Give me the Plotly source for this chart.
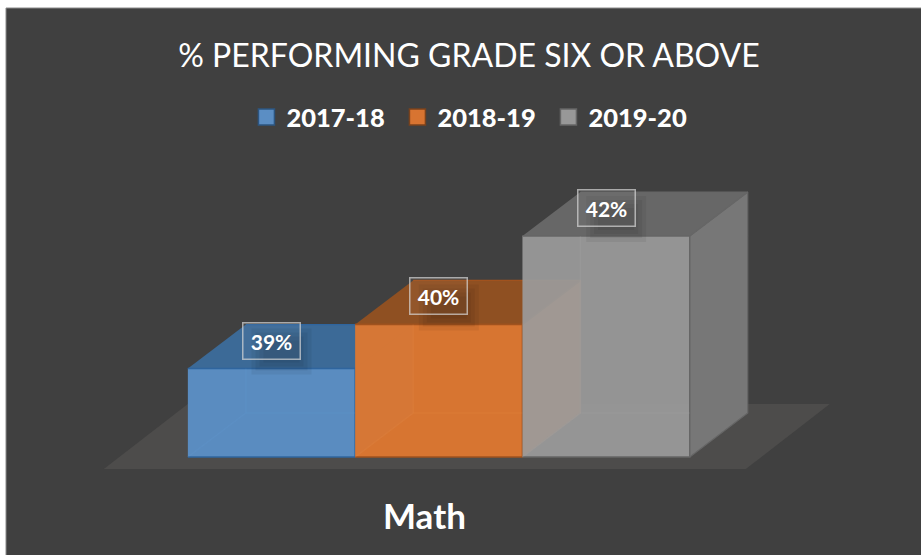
import plotly.graph_objects as go

SERIES = ["2017-18", "2018-19", "2019-20"]
VALUES = [39, 40, 42]
CATEGORY = "Math"
TITLE = "% PERFORMING GRADE SIX OR ABOVE"

FRONT = ["rgba(91,142,196,0.97)", "rgba(224,120,48,0.94)", "rgba(155,155,155,0.93)"]
TOPF = ["#3c6a97", "#8f5022", "#676767"]
SIDE = ["#3f6f9f", "#d87431", "#777777"]
EDGE = ["#2f659e", "#a0521e", "#666666"]
INNER = ["rgba(110,165,225,0.12)", "rgba(235,140,70,0.16)", "rgba(175,175,175,0.14)"]
SWATCH = ["#5b8ec4", "#d87431", "#989898"]
SWATCH_EDGE = ["#2c5580", "#7a421c", "#666666"]

BASE = 37
BAR_PX, UNIT_PX = 167.3, 44.2
PX0, PY_BASE = 271.5, 457
DX, DY = 58 / BAR_PX, 44 / UNIT_PX
W, H = 921, 555
L, T = 6, 8

fig = go.Figure()


def poly(xs, ys, fill, line=None, lw=1.2):
    fig.add_trace(go.Scatter(
        x=xs, y=ys, fill="toself", fillcolor=fill, mode="lines",
        line=dict(color=line or "rgba(0,0,0,0)", width=lw),
        hoverinfo="skip", showlegend=False))


# floor, expressed in bar / value units around the bars
fx0, fx1 = -0.5 - 84 / BAR_PX, 2.5 + 56 / BAR_PX
fy0 = BASE - 12 / UNIT_PX
fdy = 65 / UNIT_PX
fdx = 84 / BAR_PX
poly([fx0, fx1, fx1 + fdx, fx0 + fdx], [fy0, fy0, fy0 + fdy, fy0 + fdy], "#4d4c4b")

for i, v in enumerate(VALUES):
    a, b = i - 0.5, i + 0.5
    poly([b, b + DX, b + DX, b], [BASE, BASE + DY, v + DY, v], SIDE[i], EDGE[i])
    poly([a, b, b + DX, a + DX], [v, v, v + DY, v + DY], TOPF[i], EDGE[i])
    poly([a, b, b, a], [BASE, BASE, v, v], FRONT[i], EDGE[i], 1.5)
    # faint inner edges
    fig.add_trace(go.Scatter(
        x=[a, a + DX, a + DX, None, a + DX, b],
        y=[BASE, BASE + DY, v, None, BASE + DY, BASE + DY],
        mode="lines", line=dict(color=INNER[i], width=1.5),
        hoverinfo="skip", showlegend=False))

# soft shadow beneath each value label
for i, v in enumerate(VALUES):
    for inset in (0, 4, 8, 12):
        sx0, sx1 = i + (-20 + inset) / BAR_PX, i + (40 - inset) / BAR_PX
        sy0, sy1 = v - (6 - inset) / UNIT_PX, v + (40 - inset) / UNIT_PX
        poly([sx0, sx1, sx1, sx0], [sy0, sy0, sy1, sy1], "rgba(0,0,0,0.055)")

for i, s in enumerate(SERIES):
    fig.add_trace(go.Scatter(
        x=[None], y=[None], mode="markers", name=s,
        marker=dict(symbol="square", size=18, color=SWATCH[i],
                    line=dict(color=SWATCH_EDGE[i], width=1.5))))

for i, v in enumerate(VALUES):
    fig.add_annotation(
        x=i, y=v + 28 / UNIT_PX, xref="x", yref="y", text=f"<b>{v}%</b>",
        showarrow=False, width=56, height=35, valign="middle", align="center",
        font=dict(family="Lato", size=21, color="white"),
        bgcolor="rgba(255,255,255,0.04)", bordercolor="rgba(215,215,215,0.7)",
        borderwidth=1.5, borderpad=0)

fig.add_annotation(
    x=(424 - L) / (W - L), y=(H - 515) / (H - T), xref="paper", yref="paper",
    xanchor="center", yanchor="middle", text=f"<b>{CATEGORY}</b>",
    showarrow=False, font=dict(family="Lato", size=35, color="white"))

# thin panel border, left and top only
fig.add_shape(type="path", xref="paper", yref="paper", path="M 0 0 L 0 1 L 1 1",
              line=dict(color="#8a8a8a", width=1), layer="above")

fig.update_layout(
    width=W, height=H, autosize=False,
    margin=dict(l=L, r=0, t=T, b=0, pad=0),
    paper_bgcolor="white", plot_bgcolor="#404040",
    title=dict(text=TITLE, x=469 / W, xanchor="center", y=1 - 56 / H, yanchor="middle",
               font=dict(family="Lato", size=32, color="white")),
    xaxis=dict(visible=False, range=[(L - PX0) / BAR_PX, (W - PX0) / BAR_PX], fixedrange=True),
    yaxis=dict(visible=False, range=[BASE - (H - PY_BASE) / UNIT_PX, BASE + (PY_BASE - T) / UNIT_PX], fixedrange=True),
    legend=dict(orientation="h", x=470 / W, xanchor="center", y=1 - 111 / H, yanchor="middle",
                entrywidth=106, entrywidthmode="pixels", bgcolor="rgba(0,0,0,0)",
                font=dict(family="Lato", size=25.5, color="white", weight=900)),
    showlegend=True,
)

fig.write_html("out.html", config={"displayModeBar": False},
               post_script="document.body.style.margin='0';document.documentElement.style.overflow='hidden';")
